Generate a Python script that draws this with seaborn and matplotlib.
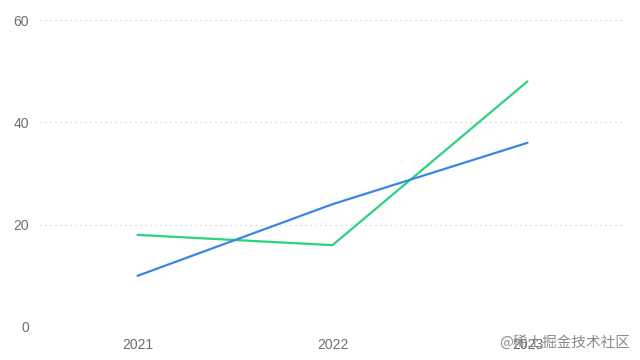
import pandas as pd
import seaborn as sns
from matplotlib import pyplot as plt

# values
years = ["2021", "2022", "2023"]
green_vals = [18, 16, 48]
blue_vals = [10, 24, 36]
y_ticks = [0, 20, 40, 60]

df = pd.DataFrame({
    "year": years * 2,
    "value": green_vals + blue_vals,
    "series": ["A"] * 3 + ["B"] * 3,
})
df["x"] = df["year"].map({y: i for i, y in enumerate(years)})

sns.set_style("white")
plt.rcParams['font.family'] = ['Liberation Sans', 'Noto Sans CJK SC', 'DejaVu Sans']

fig = plt.figure(figsize=(6.4, 3.6), dpi=100)
ax = fig.add_axes([40 / 640, 1 - 327 / 360, 585 / 640, 307 / 360])

sns.lineplot(data=df, x="x", y="value", hue="series",
             palette={"A": "#2bd27f", "B": "#3a86e3"},
             linewidth=1.6, legend=False, ax=ax)

ax.set_xlim(-0.5, 2.5)
ax.set_ylim(0, 60)
ax.set_xticks(range(len(years)))
ax.set_xticklabels(years)
ax.set_yticks(y_ticks)
ax.set_xlabel("")
ax.set_ylabel("")
for s in ax.spines.values():
    s.set_visible(False)
ax.grid(axis="y", color="#cfcfcf", linestyle=(0, (1, 3)), linewidth=0.9)
ax.grid(axis="x", visible=False)
ax.set_axisbelow(True)
ax.tick_params(axis="both", length=0, labelsize=10, colors="#6e6e6e", pad=8)

# watermark, sits over the last tick label as in the original
fig.text(0.985, 0.028, "@稀土掘金技术社区", ha="right", va="bottom",
         fontsize=10.5, color="#8a8a8a", family=['Noto Sans CJK SC', 'DejaVu Sans'])

plt.savefig("out.png", dpi=100)
